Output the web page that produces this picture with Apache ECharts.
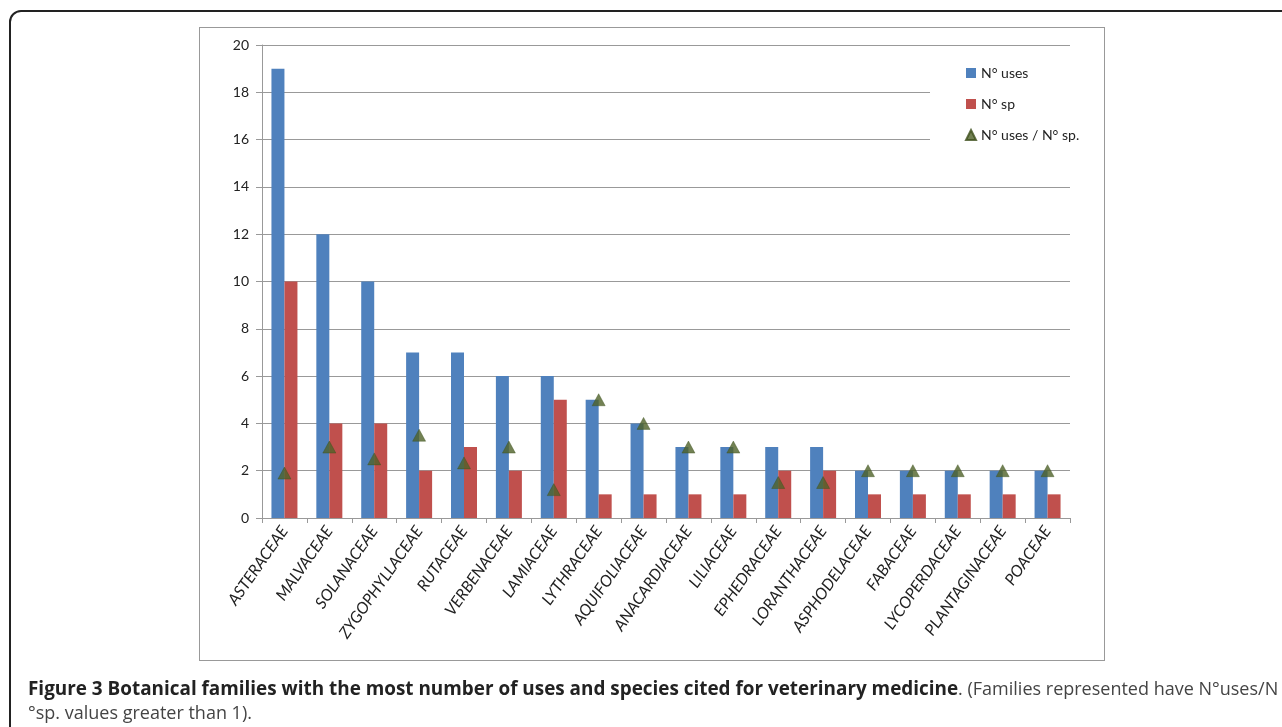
<!DOCTYPE html>
<html>
<head>
<meta charset="utf-8">
<script src="https://cdn.jsdelivr.net/npm/echarts@6/dist/echarts.min.js"></script>
<style>
  html, body { margin:0; padding:0; width:1282px; height:727px; overflow:hidden; background:#fff; }
  #frame { position:absolute; left:9px; top:10px; width:1300px; height:760px; border:2px solid #222; border-radius:12px; box-sizing:border-box; }
  #inner { position:absolute; left:199px; top:27px; width:906px; height:634px; border:1px solid #999; box-sizing:border-box; }
  #chart { position:absolute; left:0; top:0; width:1282px; height:727px; }
  #caption { position:absolute; left:28px; top:676px; width:1260px; font-family:"Open Sans",sans-serif; font-size:18px; line-height:24px; color:#444; white-space:nowrap; }
  #caption b { color:#222; font-size:18.9px; }
</style>
</head>
<body>
<div id="frame"></div>
<div id="inner"></div>
<div id="chart"></div>
<div id="caption"><b>Figure 3 Botanical families with the most number of uses and species cited for veterinary medicine</b>. (Families represented have N°uses/N<br>°sp. values greater than 1).</div>
<script>
const categories = ["ASTERACEAE","MALVACEAE","SOLANACEAE","ZYGOPHYLLACEAE","RUTACEAE","VERBENACEAE","LAMIACEAE","LYTHRACEAE","AQUIFOLIACEAE","ANACARDIACEAE","LILIACEAE","EPHEDRACEAE","LORANTHACEAE","ASPHODELACEAE","FABACEAE","LYCOPERDACEAE","PLANTAGINACEAE","POACEAE"];
const nUses = [19,12,10,7,7,6,6,5,4,3,3,3,3,2,2,2,2,2];
const nSp = [10,4,4,2,3,2,5,1,1,1,1,2,2,1,1,1,1,1];
const ratio = [1.9,3,2.5,3.5,2.33,3,1.2,5,4,3,3,1.5,1.5,2,2,2,2,2];
const yTicks = [0,2,4,6,8,10,12,14,16,18,20];

const chart = echarts.init(document.getElementById('chart'), null, {renderer:'canvas'});
chart.setOption({
  backgroundColor: 'transparent',
  animation: false,
  textStyle: { fontFamily: 'Lato, "Open Sans", sans-serif' },
  grid: { left: 262, right: 212, top: 45, bottom: 209 },
  legend: {
    orient: 'vertical',
    left: 930, top: 60,
    itemGap: 17,
    itemWidth: 10, itemHeight: 10,
    backgroundColor: '#fff',
    padding: [6, 12, 8, 35],
    textStyle: { fontSize: 14, color: '#222', fontFamily: 'Lato, "Open Sans", sans-serif' },
    data: [
      { name: 'N° uses', icon: 'rect' },
      { name: 'N° sp', icon: 'rect' },
      { name: 'N° uses / N° sp.', icon: 'triangle' }
    ]
  },
  xAxis: {
    type: 'category',
    data: categories,
    axisLine: { lineStyle: { color: '#999' } },
    axisTick: { show: true, alignWithLabel: false, length: 5, lineStyle: { color: '#999' } },
    axisLabel: { rotate: 55, fontSize: 16, fontStyle: 'italic', color: '#222', margin: 10, interval: 0 }
  },
  yAxis: {
    type: 'value',
    min: 0, max: 20, interval: 2,
    axisLine: { show: true, lineStyle: { color: '#999' } },
    axisTick: { show: true, inside: false, length: 6, lineStyle: { color: '#999' } },
    axisLabel: { fontSize: 14, color: '#222', margin: 13,
      formatter: v => yTicks.includes(v) ? String(v) : '' },
    splitLine: { show: true, lineStyle: { color: '#999', width: 1 } }
  },
  series: [
    { name: 'N° uses', type: 'bar', data: nUses, barWidth: 13, barGap: '0%',
      itemStyle: { color: '#4F81BD' } },
    { name: 'N° sp', type: 'bar', data: nSp, barWidth: 13, barGap: '0%',
      itemStyle: { color: '#C0504D' } },
    { name: 'N° uses / N° sp.', type: 'scatter', data: ratio, symbol: 'triangle', symbolSize: [13, 12],
      itemStyle: { color: '#4F6228', borderColor: '#3d4f1c', borderWidth: 0.5 }, z: 5 }
  ]
});
</script>
</body>
</html>
